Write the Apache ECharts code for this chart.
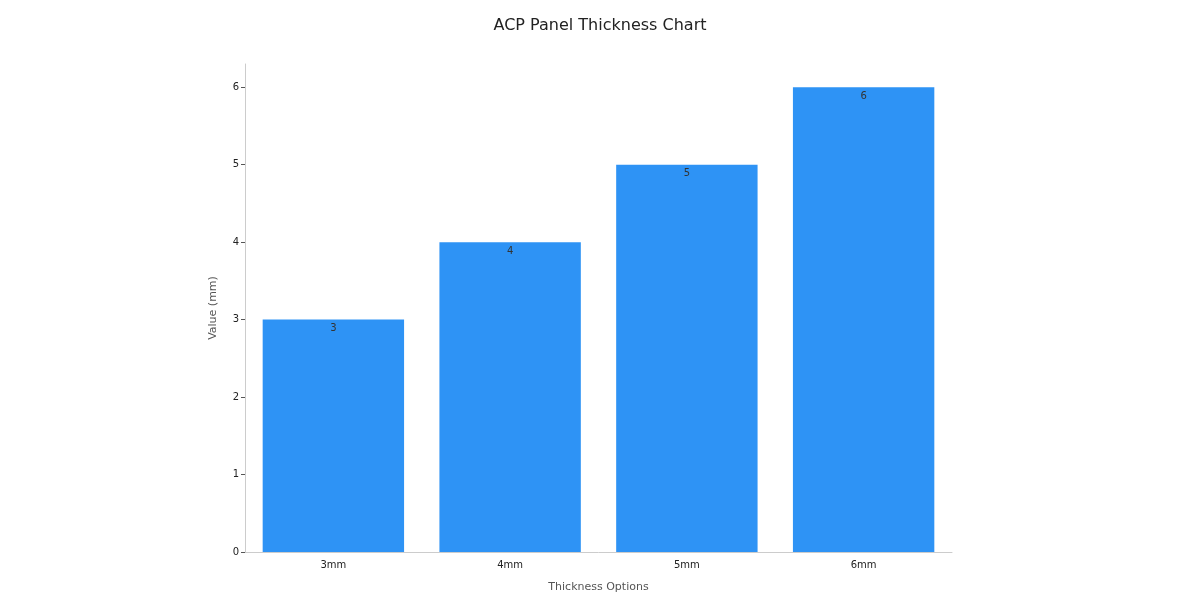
<!DOCTYPE html>
<html><head><meta charset="utf-8">
<script src="https://cdn.jsdelivr.net/npm/echarts@6/dist/echarts.min.js"></script>
<style>html,body{margin:0;padding:0;background:#fff}#c{width:1200px;height:600px}</style>
</head><body><div id="c"></div>
<script>
const categories = ['3mm', '4mm', '5mm', '6mm'];
const values = [3, 4, 5, 6];
const yTicks = [0, 1, 2, 3, 4, 5, 6];

const chart = echarts.init(document.getElementById('c'));
chart.setOption({
  animation: false,
  title: {
    text: 'ACP Panel Thickness Chart', left: 'center', top: 13,
    textStyle: { fontFamily: 'DejaVu Sans', fontSize: 16, fontWeight: 'normal', color: '#222' }
  },
  grid: { left: 245, right: 248, top: 64, bottom: 48 },
  xAxis: {
    type: 'category', data: categories,
    name: 'Thickness Options', nameLocation: 'middle', nameGap: 30,
    nameTextStyle: { fontFamily: 'DejaVu Sans', fontSize: 11, color: '#555' },
    axisLine: { lineStyle: { color: '#ccc' } },
    axisTick: { alignWithLabel: true, length: 4, lineStyle: { color: '#555' } },
    axisLabel: { fontFamily: 'DejaVu Sans', fontSize: 10, color: '#222', margin: 8 }
  },
  yAxis: {
    type: 'value', min: 0, max: 6.3, interval: 1,
    name: 'Value (mm)', nameLocation: 'middle', nameGap: 26,
    nameTextStyle: { fontFamily: 'DejaVu Sans', fontSize: 11, color: '#555' },
    axisLine: { show: true, lineStyle: { color: '#ccc' } },
    axisTick: { show: true, length: 4, lineStyle: { color: '#555' }, customValues: yTicks },
    splitLine: { show: false },
    axisLabel: {
      fontFamily: 'DejaVu Sans', fontSize: 10, color: '#222', margin: 6,
      customValues: yTicks
    }
  },
  series: [{
    type: 'bar', data: values, barWidth: '80%',
    itemStyle: { color: '#2e93f5' },
    label: {
      show: true, position: 'insideTop', offset: [0, -1],
      fontFamily: 'DejaVu Sans', fontSize: 10, color: '#333'
    }
  }]
});
</script></body></html>
